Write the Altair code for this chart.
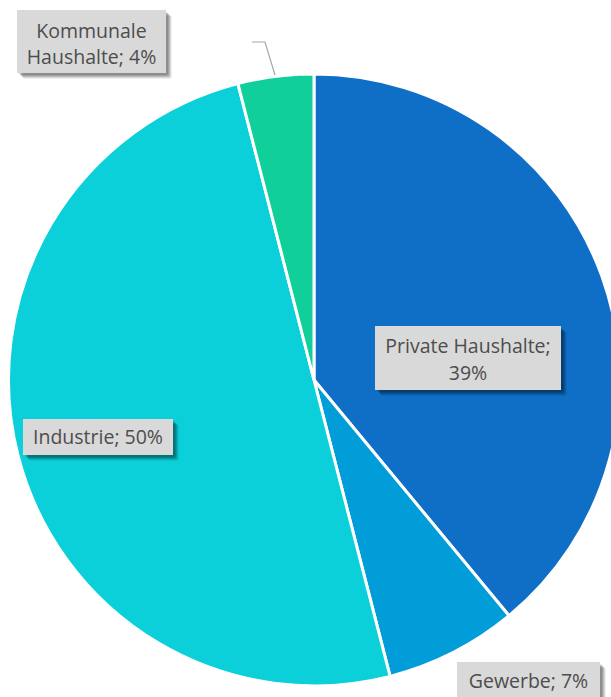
import altair as alt
import pandas as pd

# ---- data ----
categories = ["Private Haushalte", "Gewerbe", "Industrie", "Kommunale Haushalte"]
values = [39, 7, 50, 4]
colors = ["#0F6FC6", "#009DD9", "#0BD0D9", "#10CF9B"]
label_line1 = ["Private Haushalte;", "Gewerbe; 7%", "Industrie; 50%", "Kommunale"]
label_line2 = ["39%", "", "", "Haushalte; 4%"]

# ---- layout (pixel annotations) ----
W, H = 611, 697
CX, CY, R = 314, 380, 306
box_x0 = [375, 457, 23, 17]
box_x1 = [561, 600, 173, 166]
box_y0 = [326, 662, 419, 10]
box_y1 = [390, 700, 455, 73]
line1_y = [347, 682, 438, 32]
line2_y = [374, 0, 0, 58]

pie_df = pd.DataFrame({"cat": categories, "value": values, "order": list(range(len(values)))})
box_df = pd.DataFrame({"x0": box_x0, "x1": box_x1, "y0": box_y0, "y1": box_y1})
box_df["xc"] = (box_df.x0 + box_df.x1) / 2

rows = []
for i in range(len(categories)):
    rows.append({"t": label_line1[i], "x": box_df.xc[i], "y": line1_y[i]})
    if label_line2[i]:
        rows.append({"t": label_line2[i], "x": box_df.xc[i], "y": line2_y[i]})
txt_df = pd.DataFrame(rows)

pie = alt.Chart(pie_df).mark_arc(outerRadius=R, stroke="white", strokeWidth=3).encode(
    theta=alt.Theta("value:Q", stack=True),
    order=alt.Order("order:Q"),
    color=alt.Color("cat:N", scale=alt.Scale(domain=categories, range=colors), legend=None),
    x=alt.value(CX),
    y=alt.value(CY),
)

shadows = []
for off, op in [(6, 0.06), (5, 0.10), (4, 0.12), (3, 0.14), (2, 0.12)]:
    shadows.append(
        alt.Chart(box_df).mark_rect(color="black", opacity=op, cornerRadius=2).encode(
            x=alt.X("sx0:Q", scale=None), x2="sx1:Q",
            y=alt.Y("sy0:Q", scale=None), y2="sy1:Q",
        ).transform_calculate(sx0=f"datum.x0+{off}", sx1=f"datum.x1+{off}",
                              sy0=f"datum.y0+{off}", sy1=f"datum.y1+{off}")
    )

boxes = alt.Chart(box_df).mark_rect(color="#D9D9D9").encode(
    x=alt.X("x0:Q", scale=None), x2="x1:Q",
    y=alt.Y("y0:Q", scale=None), y2="y1:Q",
)

texts = alt.Chart(txt_df).mark_text(
    font="Open Sans", fontSize=19.5, color="#4D4D4D",
    align="center", baseline="middle",
).encode(
    x=alt.X("x:Q", scale=None),
    y=alt.Y("y:Q", scale=None),
    text="t:N",
)

leader = alt.Chart(pd.DataFrame({"x": [252, 265, 275], "y": [42, 42, 75], "o": [0, 1, 2]})).mark_line(
    color="#A6A6A6", strokeWidth=1.2
).encode(x=alt.X("x:Q", scale=None), y=alt.Y("y:Q", scale=None), order="o:Q")

chart = alt.layer(pie, leader, *shadows, boxes, texts).properties(
    width=W, height=H, autosize=alt.AutoSizeParams(type="none"), padding=0
).configure(background="white", view=alt.ViewConfig(stroke=None))

chart.save("out.html", embed_options={"renderer": "svg", "actions": False})
